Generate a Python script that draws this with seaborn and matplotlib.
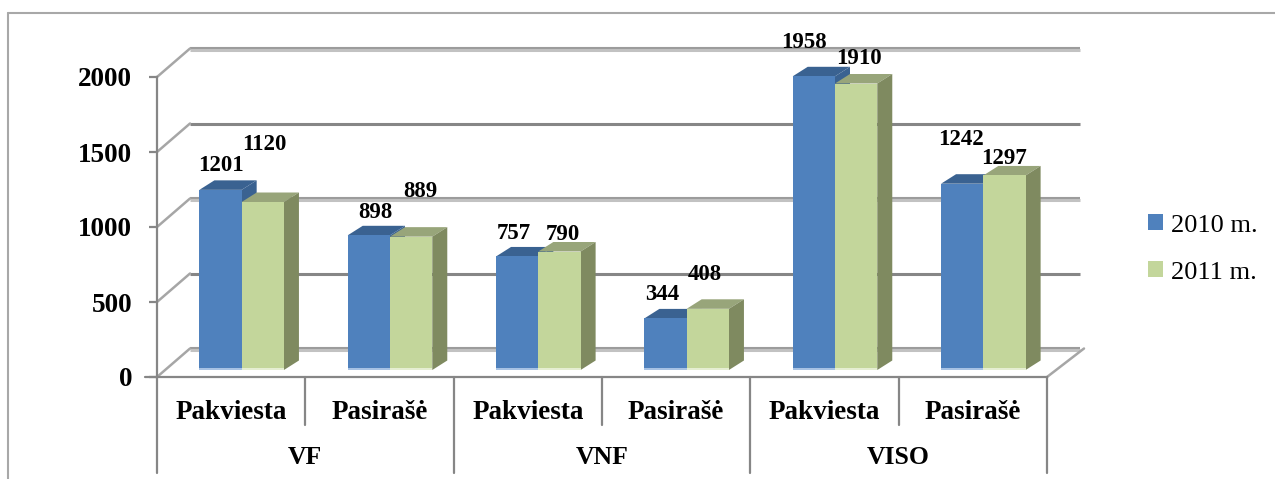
"""Grouped pseudo-3D bars: invited vs signed, 2010 and 2011."""
import pandas as pd
import seaborn as sns
import matplotlib.pyplot as plt
from matplotlib.lines import Line2D
from matplotlib.patches import Polygon

FIG_W, FIG_H = 1275, 479
AX_LEFT, AX_RIGHT, AX_BOTTOM, AX_TOP = 157, 1047, 377, 77

groups = ["VF", "VNF", "VISO"]
items = ["Pakviesta", "Pasirašė"]
years = ["2010 m.", "2011 m."]
values_2010 = [1201, 898, 757, 344, 1958, 1242]
values_2011 = [1120, 889, 790, 408, 1910, 1297]
y_ticks = [0, 500, 1000, 1500, 2000]

# hand placed data label nudges in pixels, same as the source chart
nudge_2010 = [(0, 24), (7, 23), (-3, 23), (-3, 24), (-10, 34), (-1, 44)]
nudge_2011 = [(2, 58), (9, 45), (3, 17), (-3, 34), (3, 25), (0, 17)]

front_colors = {"2010 m.": "#4F81BD", "2011 m.": "#C3D69B"}
top_colors = {"2010 m.": "#3A6291", "2011 m.": "#98A57A"}
side_colors = {"2010 m.": "#3A6291", "2011 m.": "#7F8A60"}
base_colors = {"2010 m.": "#A7C2E4", "2011 m.": "#E5EED2"}

AXIS_GREY = "#868686"

sns.set_style("white")
plt.rcParams["font.family"] = ["Liberation Serif", "DejaVu Serif"]

labels = [f"{g} {i}" for g in groups for i in items]
df = pd.DataFrame({
    "label": labels * 2,
    "year": [years[0]] * 6 + [years[1]] * 6,
    "value": values_2010 + values_2011,
})

fig = plt.figure(figsize=(FIG_W / 100, FIG_H / 100), dpi=100)
ax = fig.add_axes([
    AX_LEFT / FIG_W,
    1 - AX_BOTTOM / FIG_H,
    (AX_RIGHT - AX_LEFT) / FIG_W,
    (AX_BOTTOM - AX_TOP) / FIG_H,
])

sns.barplot(
    data=df, x="label", y="value", hue="year", palette=front_colors,
    width=0.57, gap=0, saturation=1, linewidth=0, ax=ax,
)
ax.set_xlim(-0.5, 5.5)
ax.set_ylim(0, 2000)

# px -> data scale
px_x = 6 / (AX_RIGHT - AX_LEFT)
px_y = 2000 / (AX_BOTTOM - AX_TOP)

# back wall gridlines and the diagonals up from the front axis
wall_x, wall_y = 33 * px_x, 28.5 * px_y
for i, tick in enumerate(y_ticks):
    if i % 2 == 0:
        ax.plot([-0.5 + wall_x, 5.5 + wall_x], [tick + wall_y - 1.5 * px_y] * 2,
                color="#C2C2C2", lw=2.2, clip_on=False, zorder=1, solid_capstyle="butt")
        ax.plot([-0.5 + wall_x, 5.5 + wall_x], [tick + wall_y + 0.8 * px_y] * 2,
                color="#9C9C9C", lw=1.5, clip_on=False, zorder=1, solid_capstyle="butt")
    else:
        ax.plot([-0.5 + wall_x, 5.5 + wall_x], [tick + wall_y] * 2,
                color=AXIS_GREY, lw=2.2, clip_on=False, zorder=1, solid_capstyle="butt")
    ax.plot([-0.5, -0.5 + wall_x], [tick, tick + wall_y],
            color="#A6A6A6", lw=1.8, clip_on=False, zorder=1)
ax.plot([5.5, 5.5 + wall_x * 37 / 33], [0, wall_y], color="#A6A6A6", lw=1.8, clip_on=False, zorder=1)

# lift bars off the front axis onto the floor, then add the top and side faces
shift_x, shift_y = 10.5 * px_x, 7 * px_y
depth_x, depth_y = 15 * px_x, 9.5 * px_y
for n, (bars, year) in enumerate(zip(ax.containers, years)):
    nudges = nudge_2010 if n == 0 else nudge_2011
    for bar, (dx, dy) in zip(bars, nudges):
        value = bar.get_height()
        bar.set_x(bar.get_x() + shift_x)
        bar.set_y(bar.get_y() + shift_y)
        bar.set_clip_on(False)
        bar.set_zorder(3 + 2 * n)
        x0, x1 = bar.get_x(), bar.get_x() + bar.get_width()
        y0, y1 = bar.get_y(), bar.get_y() + value
        ax.add_patch(Polygon(
            [(x0, y1), (x1, y1), (x1 + depth_x, y1 + depth_y), (x0 + depth_x, y1 + depth_y)],
            color=top_colors[year], lw=0, clip_on=False, zorder=2 + 2 * n))
        ax.add_patch(Polygon(
            [(x1, y0), (x1 + depth_x, y0 + depth_y), (x1 + depth_x, y1 + depth_y), (x1, y1)],
            color=side_colors[year], lw=0, clip_on=False, zorder=2 + 2 * n))
        ax.add_patch(Polygon(
            [(x0, y0), (x1, y0), (x1, y0 + 2.5 * px_y), (x0, y0 + 2.5 * px_y)],
            color=base_colors[year], lw=0, clip_on=False, zorder=3.5 + 2 * n))
        ax.annotate(
            str(int(value)),
            xy=(bar.get_x() + bar.get_width() / 2, y1),
            xytext=(dx * 0.72, dy * 0.72), textcoords="offset points",
            ha="center", va="center", fontsize=16.5, fontweight="bold",
            color="black", annotation_clip=False, zorder=10,
        )

# axes
sns.despine(ax=ax, top=True, right=True)
for side in ["left", "bottom"]:
    ax.spines[side].set_color(AXIS_GREY)
    ax.spines[side].set_linewidth(1.6)
ax.set_xlabel("")
ax.set_ylabel("")
ax.set_yticks(y_ticks)
ax.tick_params(axis="y", left=True, length=6, width=1.6, color=AXIS_GREY, pad=12,
               labelsize=19.5, labelcolor="black")
for t in ax.get_yticklabels():
    t.set_fontweight("bold")
ax.set_xticks(range(6))
ax.set_xticklabels(items * 3, fontsize=19.5, fontweight="bold", color="black")
ax.tick_params(axis="x", bottom=False, pad=13)

# two level category axis
trans = ax.get_xaxis_transform()
for k in range(4):
    ax.plot([-0.5 + 2 * k] * 2, [0, -96 / (AX_BOTTOM - AX_TOP)], transform=trans,
            color=AXIS_GREY, lw=1.6, clip_on=False)
    if k < 3:
        ax.plot([0.5 + 2 * k] * 2, [0, -48 / (AX_BOTTOM - AX_TOP)], transform=trans,
                color=AXIS_GREY, lw=1.6, clip_on=False)
        ax.text(0.5 + 2 * k, -81 / (AX_BOTTOM - AX_TOP), groups[k], transform=trans,
                ha="center", va="center", fontsize=18.5, fontweight="bold", color="black")
ax.plot([-0.5 - 12 * px_x, -0.5], [0, 0], color=AXIS_GREY, lw=1.6, clip_on=False)

sns.move_legend(
    ax, "center left", bbox_to_anchor=((1148 - AX_LEFT) / (AX_RIGHT - AX_LEFT), 0.427),
    frameon=False, title=None, fontsize=19, labelcolor="black", handlelength=0.57, handleheight=0.57,
    handletextpad=0.3, labelspacing=0.93, borderpad=0, borderaxespad=0,
)

# chart frame
for xs, ys in [((8, FIG_W), (13, 13)), ((8, 8), (13, FIG_H))]:
    fig.add_artist(Line2D([x / FIG_W for x in xs], [1 - y / FIG_H for y in ys],
                          color="#A8A8A8", lw=1.5))

fig.savefig("out.png", dpi=100)
